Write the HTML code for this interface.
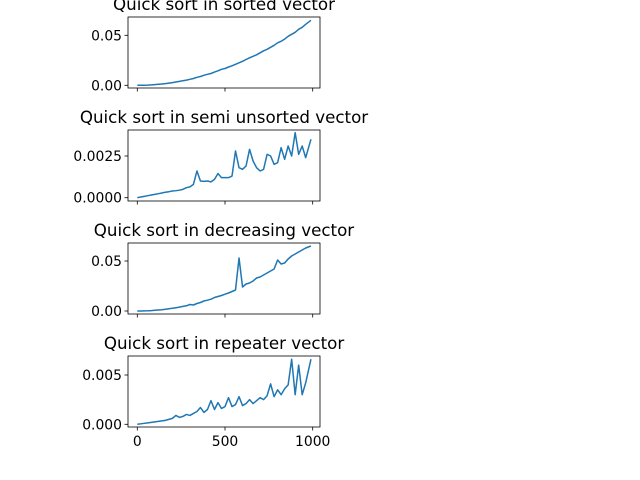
<!DOCTYPE html>
<html><head><meta charset="utf-8"><style>
body{margin:0;background:#fff}
svg{display:block;font-family:"DejaVu Sans","Liberation Sans",sans-serif}
</style></head><body>
<svg id="c" width="640" height="480" viewBox="0 0 640 480" xmlns="http://www.w3.org/2000/svg"></svg>
<script>
const xs=[0,20,40,60,80,100,120,140,160,180,200,220,240,260,280,300,320,340,360,380,400,420,440,460,480,500,520,540,560,580,600,620,640,660,680,700,720,740,760,780,800,820,840,860,880,900,920,940,960,990];
const sortedVals=[0,0,.0001,.0002,.0004,.0007,.001,.0013,.0017,.0022,.0027,.0033,.0039,.0046,.0052,.006,.0068,.008,.0088,.0100,.0110,.0118,.0132,.0145,.0160,.0168,.0183,.0195,.0210,.0225,.0240,.0258,.0275,.0290,.0305,.0325,.0345,.0360,.0380,.0400,.0425,.0440,.0462,.0490,.0510,.0530,.0560,.0580,.0610,.0650];
const semiVals=[0,.00004,.00008,.00012,.00016,.0002,.00024,.00028,.00033,.00036,.0004,.00042,.00045,.0005,.0006,.00065,.0008,.0016,.001,.00098,.001,.00095,.0011,.00145,.0012,.0012,.0012,.0013,.0028,.0018,.0017,.0019,.0029,.0022,.0018,.0016,.0017,.0026,.0025,.002,.0021,.003,.0023,.0031,.0025,.0039,.0026,.0031,.0024,.0035];
const decVals=[0,0,.0001,.0002,.0004,.0007,.001,.0013,.0017,.0022,.0027,.0033,.0039,.0046,.0052,.0065,.0060,.0075,.0085,.0100,.0108,.0118,.0135,.0145,.0155,.0168,.0180,.0195,.0210,.053,.024,.027,.028,.030,.033,.034,.036,.038,.040,.042,.051,.047,.048,.052,.055,.057,.059,.061,.063,.065];
const repVals=[0,.00005,.0001,.00015,.0002,.00025,.0003,.00035,.0004,.0005,.0006,.0009,.0007,.0008,.001,.0009,.0011,.0013,.0017,.0012,.0015,.0024,.0015,.0022,.0016,.0018,.0027,.0018,.002,.0028,.0019,.0021,.0025,.0021,.0024,.0027,.0025,.0029,.0041,.0028,.0035,.003,.0036,.004,.0066,.003,.006,.003,.0042,.0066];
const xTicks=[0,500,1000];
const panels=[
 {title:"Quick sort in sorted vector",vals:sortedVals,top:17,bot:88,y0:85.3,unit:0.05,upx:50,ticks:[0,0.05],fmt:v=>v.toFixed(2),name:"sorted"},
 {title:"Quick sort in semi unsorted vector",vals:semiVals,top:130,bot:201,y0:197.7,unit:0.0025,upx:41.7,ticks:[0,0.0025],fmt:v=>v.toFixed(4),name:"semi-unsorted"},
 {title:"Quick sort in decreasing vector",vals:decVals,top:243,bot:314,y0:311,unit:0.05,upx:50,ticks:[0,0.05],fmt:v=>v.toFixed(2),name:"decreasing"},
 {title:"Quick sort in repeater vector",vals:repVals,top:356,bot:427,y0:424.3,unit:0.005,upx:49.3,ticks:[0,0.005],fmt:v=>v.toFixed(3),name:"repeater"}
];
const L=128,R=320;
const sx=v=>137.3+v*0.1754;
const svg=document.getElementById('c');
const NS="http://www.w3.org/2000/svg";
function mk(t,a,p){const e=document.createElementNS(NS,t);for(const k in a)e.setAttribute(k,a[k]);(p||svg).appendChild(e);return e;}
panels.forEach((p,i)=>{
 const sy=v=>p.y0-v/p.unit*p.upx;
 const g=mk('g',{});
 
 
 const d=xs.map((x,j)=>(j?'L':'M')+sx(x).toFixed(2)+','+sy(p.vals[j]).toFixed(2)).join('');
 const ln=mk('path',{d:d,fill:'none',stroke:'#1f77b4','stroke-width':1.5,'stroke-linejoin':'round'},g);
 
 
 const fr=mk('rect',{x:L,y:p.top,width:R-L,height:p.bot-p.top,fill:'none',stroke:'#000','stroke-width':0.8},g);
 
 
 const t=mk('text',{x:(L+R)/2,y:p.top-7,'text-anchor':'middle','font-size':'16.7px',fill:'#000'},g);
 t.textContent=p.title;
 
 
 p.ticks.forEach(v=>{
  const y=sy(v);
  mk('line',{x1:L-3.5,x2:L,y1:y,y2:y,stroke:'#000','stroke-width':0.8},g);
  const tl=mk('text',{x:L-6,y:y+5,'text-anchor':'end','font-size':'13.9px',fill:'#000'},g);
  tl.textContent=p.fmt(v);
  
  
 });
 xTicks.forEach(v=>{
  const x=sx(v);
  mk('line',{x1:x,x2:x,y1:p.bot,y2:p.bot+3.5,stroke:'#000','stroke-width':0.8},g);
  if(i===3){
   const xl=mk('text',{x:x,y:p.bot+19,'text-anchor':'middle','font-size':'13.9px',fill:'#000'},g);
   xl.textContent=String(v);
   
   
  }
 });
});
</script>
</body></html>
